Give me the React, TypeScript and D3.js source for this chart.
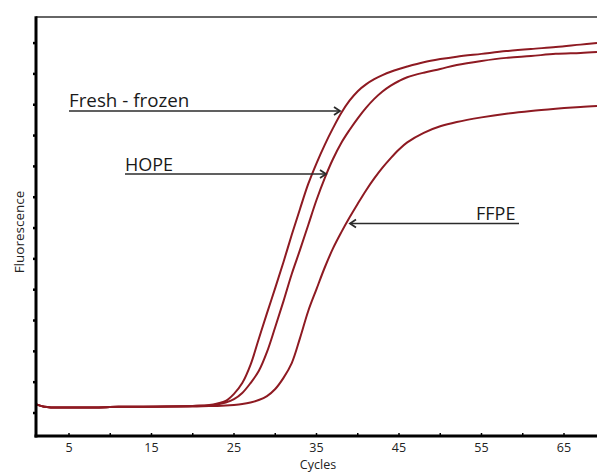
import React from "react";
import * as d3 from "d3";

// ---- data (cycles vs fluorescence, arbitrary units) ----
const cycles = [1, 2, 3, 5, 8, 11, 14, 17, 20, 22, 23, 24, 25, 26, 27, 28, 29, 30, 31, 32, 33, 34, 35, 36, 37, 38, 39, 40, 41, 42, 43, 44, 45, 46, 48, 50, 52, 55, 58, 61, 64, 67, 69];
const freshFrozen = [12.9, 12.0, 11.8, 11.8, 11.8, 12.0, 12.0, 12.1, 12.3, 12.6, 13.1, 13.9, 16.2, 19.7, 25.6, 34.0, 42.4, 50.6, 59.0, 67.8, 76.2, 84.3, 91.0, 97.0, 102.4, 107.3, 111.3, 114.4, 116.6, 118.3, 119.6, 120.7, 121.6, 122.4, 123.8, 124.8, 125.6, 126.5, 127.4, 128.1, 128.7, 129.5, 130.0];
const hope = [12.8, 12.0, 11.8, 11.8, 11.8, 12.0, 12.0, 12.1, 12.3, 12.4, 12.8, 13.4, 14.5, 16.5, 19.7, 23.6, 29.8, 37.9, 46.3, 55.1, 62.9, 71.0, 79.1, 86.2, 92.4, 97.6, 101.8, 105.6, 109.0, 111.9, 114.3, 116.2, 117.7, 118.9, 120.4, 121.6, 122.9, 124.2, 125.2, 125.8, 126.5, 126.8, 127.1];
const ffpe = [12.8, 12.0, 11.8, 11.8, 11.8, 12.0, 12.0, 12.1, 12.1, 12.3, 12.3, 12.4, 12.6, 12.9, 13.4, 14.2, 15.5, 17.8, 21.4, 26.2, 34.3, 43.1, 50.2, 57.2, 63.4, 68.6, 73.4, 77.9, 82.2, 86.1, 89.6, 92.7, 95.5, 97.8, 100.9, 103.0, 104.4, 105.9, 107.1, 108.0, 108.7, 109.3, 109.6];

const xTickValues = [5, 10, 15, 20, 25, 30, 35, 40, 45, 50, 55, 60, 65];
const xLabelValues = [5, 15, 25, 35, 45, 55, 65];
const yTickValues = [10, 20, 30, 40, 50, 60, 70, 80, 90, 100, 110, 120, 130];
const xDomain = [1, 69];
const yDomain = [2.54, 138.46];

const seriesNames = ["Fresh - frozen", "HOPE", "FFPE"];
const seriesValues = [freshFrozen, hope, ffpe];

// ---- layout ----
const W = 597;
const H = 473;
const left = 36;
const right = 597;
const top = 17;
const bottom = 436;
const FONT = "'Open Sans', 'Noto Sans', sans-serif";
const curveColor = "#8e1a22";
const arrowColor = "#2b2b2b";

type Ann = { label: string; tx: number; ty: number; x1: number; x2: number; ly: number; dir: 1 | -1; fs: number };
const annotations: Ann[] = [
  { label: seriesNames[0], tx: 69, ty: 107, x1: 69, x2: 340, ly: 111, dir: 1, fs: 18.8 },
  { label: seriesNames[1], tx: 125, ty: 171, x1: 125, x2: 326, ly: 174, dir: 1, fs: 18 },
  { label: seriesNames[2], tx: 476, ty: 220, x1: 519, x2: 350, ly: 223.5, dir: -1, fs: 18 },
];

export default function App() {
  const x = d3.scaleLinear().domain(xDomain).range([left, right]);
  const y = d3.scaleLinear().domain(yDomain).range([bottom, top]);
  const line = d3
    .line<number>()
    .x((_, i) => x(cycles[i]))
    .y((d) => y(d))
    .curve(d3.curveCatmullRom.alpha(0.5));

  return (
    <svg
      width={W}
      height={H}
      style={{ position: "absolute", left: 0, top: 0, background: "#fff" }}
      fontFamily={FONT}
    >
      <rect x={0} y={0} width={W} height={H} fill="#fff" />
      {/* top border */}
      <line x1={left} x2={W} y1={top} y2={top} stroke="#333" strokeWidth={1.5} />

      {/* curves */}
      {seriesValues.map((vals, i) => (
        <path key={i} d={line(vals) || ""} fill="none" stroke={curveColor} strokeWidth={2} strokeLinejoin="round" />
      ))}

      {/* y ticks */}
      {yTickValues.map((v) => (
        <line key={v} x1={left - 3} x2={left} y1={y(v)} y2={y(v)} stroke="#000" strokeWidth={2.5} />
      ))}
      {/* x ticks */}
      {xTickValues.map((v) => (
        <line key={v} x1={x(v)} x2={x(v)} y1={bottom} y2={bottom - 3} stroke="#000" strokeWidth={1.5} />
      ))}
      {/* axes */}
      <line x1={left} x2={left} y1={top - 0.75} y2={bottom + 1.5} stroke="#000" strokeWidth={3} />
      <line x1={left - 1.5} x2={W} y1={bottom} y2={bottom} stroke="#000" strokeWidth={3} />

      {/* x labels */}
      {xLabelValues.map((v) => (
        <text key={v} x={x(v)} y={452} textAnchor="middle" fontSize={12.5} fill="#222">
          {v}
        </text>
      ))}
      <text x={318} y={469} textAnchor="middle" fontSize={12.5} fill="#222">
        Cycles
      </text>
      <text
        transform={`translate(24,232) rotate(-90)`}
        textAnchor="middle"
        fontSize={13.5}
        fill="#222"
      >
        Fluorescence
      </text>

      {/* annotations */}
      {annotations.map((a) => (
        <g key={a.label}>
          <text x={a.tx} y={a.ty} fontSize={a.fs} fill="#1a1a1a">
            {a.label}
          </text>
          <line x1={a.x1} x2={a.x2} y1={a.ly} y2={a.ly} stroke={arrowColor} strokeWidth={1.5} />
          <polyline
            points={`${a.x2 - a.dir * 6},${a.ly - 4} ${a.x2},${a.ly} ${a.x2 - a.dir * 6},${a.ly + 4}`}
            fill="none"
            stroke={arrowColor}
            strokeWidth={1.8}
          />
        </g>
      ))}
    </svg>
  );
}
